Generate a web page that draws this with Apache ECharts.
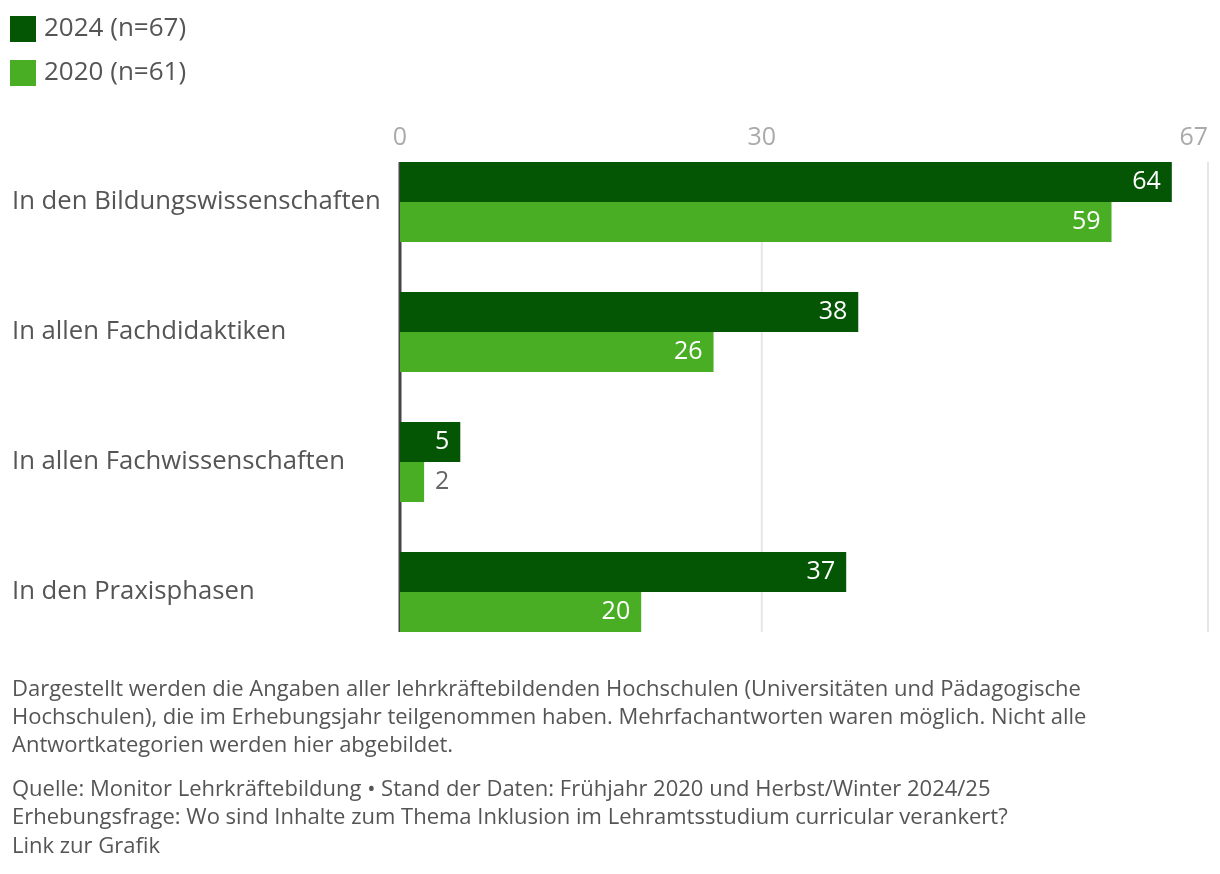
<!DOCTYPE html>
<html>
<head>
<meta charset="utf-8">
<script src="https://cdn.jsdelivr.net/npm/echarts@6/dist/echarts.min.js"></script>
<style>
  html, body { margin: 0; padding: 0; background: #fff; }
  #chart { width: 1220px; height: 874px; }
</style>
</head>
<body>
<div id="chart"></div>
<script>
const categories = [
  'In den Bildungswissenschaften',
  'In allen Fachdidaktiken',
  'In allen Fachwissenschaften',
  'In den Praxisphasen',
];
const seriesNames = ['2024 (n=67)', '2020 (n=61)'];
const values2024 = [64, 38, 5, 37];
const values2020 = [59, 26, 2, 20];
const xTicks = [0, 30, 67];

const noteText = 'Dargestellt werden die Angaben aller lehrkräftebildenden Hochschulen (Universitäten und Pädagogische\n' +
  'Hochschulen), die im Erhebungsjahr teilgenommen haben. Mehrfachantworten waren möglich. Nicht alle\n' +
  'Antwortkategorien werden hier abgebildet.';
const sourceText = 'Quelle: Monitor Lehrkräftebildung • Stand der Daten: Frühjahr 2020 und Herbst/Winter 2024/25\n' +
  'Erhebungsfrage: Wo sind Inhalte zum Thema Inklusion im Lehramtsstudium curricular verankert?\n' +
  'Link zur Grafik';

const FONT = 'Open Sans';
const BAR_H = 40;

// small bars get their label outside in grey
function barData(values) {
  return values.map(v => {
    if (v >= 4) return v;
    return {
      value: v,
      label: { position: 'right', color: '#666', distance: 11 }
    };
  });
}

function barSeries(name, values, color) {
  return {
    name: name,
    type: 'bar',
    data: barData(values),
    barWidth: BAR_H,
    barGap: '0%',
    itemStyle: { color: color },
    label: {
      show: true,
      position: 'insideRight',
      distance: 11,
      color: '#fff',
      fontFamily: FONT,
      fontSize: 25
    },
    z: 3
  };
}

// vertical reference lines only over the span of the bars
const lineSeries = {
  type: 'custom',
  silent: true,
  z: 1,
  data: xTicks.map(t => [t, 0]),
  renderItem: function (params, api) {
    const v = api.value(0);
    const top = api.coord([v, 0]);
    const bottom = api.coord([v, categories.length - 1]);
    const isZero = v === 0;
    return {
      type: 'line',
      shape: { x1: top[0], y1: top[1] - BAR_H, x2: bottom[0], y2: bottom[1] + BAR_H },
      style: { stroke: isZero ? '#444' : '#e6e6e6', lineWidth: isZero ? 3 : 2 },
      z2: isZero ? 10 : 0
    };
  }
};

const chart = echarts.init(document.getElementById('chart'));
chart.setOption({
  backgroundColor: '#fff',
  animation: false,
  textStyle: { fontFamily: FONT },
  legend: {
    orient: 'vertical',
    left: 10,
    top: 16,
    padding: 0,
    itemWidth: 26,
    itemHeight: 26,
    itemGap: 18,
    icon: 'rect',
    data: seriesNames,
    textStyle: { fontFamily: FONT, fontSize: 26, color: '#555', padding: [0, 0, 0, 3] }
  },
  grid: { left: 400, right: 12, top: 137, height: 520, containLabel: false },
  xAxis: {
    type: 'value',
    position: 'top',
    min: 0,
    max: 67,
    axisLine: { show: false },
    axisTick: { show: false },
    splitLine: { show: false },
    axisLabel: {
      customValues: xTicks,
      margin: -13,
      color: '#aaa',
      fontFamily: FONT,
      fontSize: 25,
      alignMaxLabel: 'right',
      alignMinLabel: 'center'
    }
  },
  yAxis: {
    type: 'category',
    inverse: true,
    data: categories,
    axisLine: { show: false },
    axisTick: { show: false },
    axisLabel: {
      align: 'left',
      margin: 388,
      color: '#555',
      fontFamily: FONT,
      fontSize: 25.7
    }
  },
  series: [
    lineSeries,
    barSeries(seriesNames[0], values2024, '#045604'),
    barSeries(seriesNames[1], values2020, '#49ae24')
  ],
  graphic: [
    {
      type: 'text',
      left: 12,
      top: 676,
      style: { text: noteText, fontFamily: FONT, fontSize: 22, lineHeight: 28, fill: '#555' }
    },
    {
      type: 'text',
      left: 12,
      top: 775,
      style: { text: sourceText, fontFamily: FONT, fontSize: 22, lineHeight: 28.5, fill: '#555' }
    }
  ]
});
</script>
</body>
</html>
